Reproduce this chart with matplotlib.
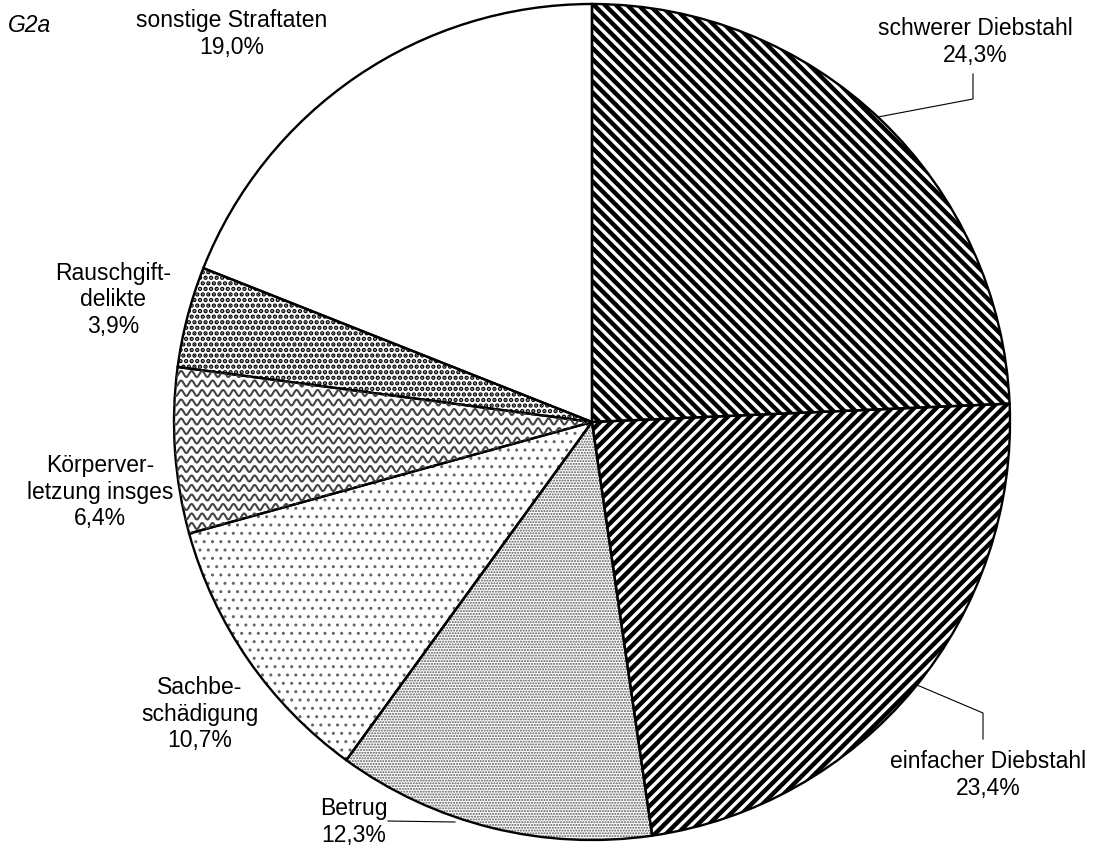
import numpy as np
import matplotlib
matplotlib.use('Agg')
import matplotlib.pyplot as plt

W, H = 1096, 852

# Anteile der Straftatengruppen (Uhrzeigersinn ab 12 Uhr)
gruppen = ['schwerer Diebstahl', 'einfacher Diebstahl', 'Betrug', 'Sachbe-\nschädigung',
           'Körperver-\nletzung insges', 'Rauschgift-\ndelikte', 'sonstige Straftaten']
anteile = [24.3, 23.4, 12.3, 10.7, 6.4, 3.9, 19.0]
richtung = ['\\\\\\', '///', '......', '..', '', '...', '']
farben = ['black', 'black', '#555555', '#666666', 'black', 'black', 'black']
staerke = [3.2, 3.2, 1.0, 1.0, 1.0, 2.2, 1.0]

# Beschriftungspositionen in Pixeln (x, y von oben)
lab_pos = [(975, 42), (988, 775), (354, 822), (200, 714), (100, 492), (113, 300), (232, 34)]
# Verbindungslinien
linien = {0: [(878, 117), (973, 99), (973, 74)],
          1: [(917, 685), (983, 713), (983, 739)],
          2: [(388, 821), (455, 822)]}

plt.rcParams['font.family'] = ['Liberation Sans', 'DejaVu Sans']

fig = plt.figure(figsize=(W / 100, H / 100), dpi=100)
ax = fig.add_axes([0, 0, 1, 1])
ax.axis('off')

mitte = (592, H - 422)
radius = 418

wedges, _ = ax.pie(anteile, startangle=90, counterclock=False, center=mitte,
                   radius=radius, wedgeprops=dict(facecolor='white', linewidth=0))
for w, h, c, s in zip(wedges, richtung, farben, staerke):
    w.set_edgecolor(c)
    w.set_hatch(h)
    if hasattr(w, 'set_hatch_linewidth'):
        w.set_hatch_linewidth(s)

# Wellenmuster für Körperverletzung
kv = wedges[4]
xs = np.linspace(150, 620, 900)
for y0 in np.arange(H - 640, H - 330, 9.5):
    ln, = ax.plot(xs, y0 + 3.0 * np.sin(2 * np.pi * xs / 10.5), color='#444444', lw=1.5)
    ln.set_clip_path(kv)

# Umrisse
ax.pie(anteile, startangle=90, counterclock=False, center=mitte, radius=radius,
       wedgeprops=dict(facecolor='none', edgecolor='black', linewidth=1.7))

for i, (name, wert) in enumerate(zip(gruppen, anteile)):
    x, y = lab_pos[i]
    txt = name + '\n' + ('%.1f%%' % wert).replace('.', ',')
    ax.text(x, H - y, txt, ha='center', va='center', fontsize=16.5, linespacing=1.2)

for pts in linien.values():
    ax.plot([p[0] for p in pts], [H - p[1] for p in pts], color='black', lw=0.8)

ax.text(8, H - 25, 'G2a', ha='left', va='center', fontsize=16.5, style='italic')

ax.set_xlim(0, W)
ax.set_ylim(0, H)
ax.set_aspect('auto')

fig.savefig('out.png', dpi=100)
